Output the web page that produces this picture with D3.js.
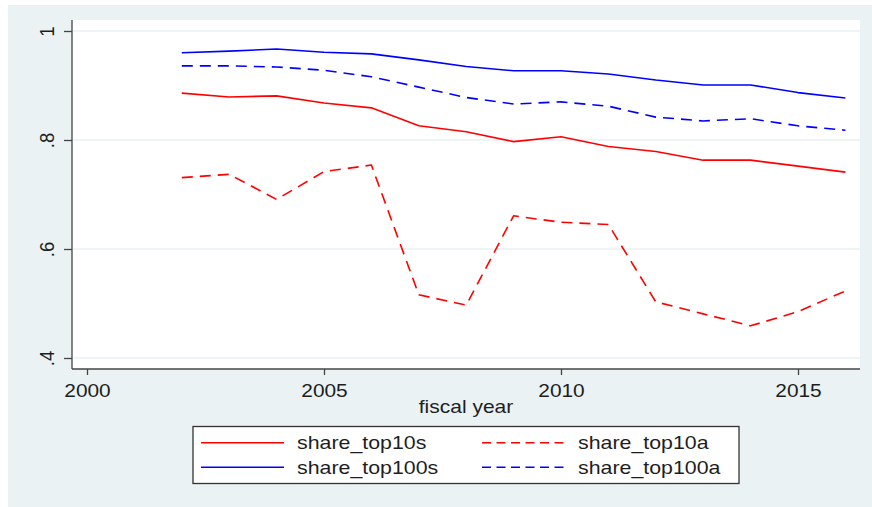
<!DOCTYPE html>
<html><head><meta charset="utf-8">
<script src="https://cdn.jsdelivr.net/npm/d3@7"></script>
<style>html,body{margin:0;padding:0;background:#fff;}svg{display:block;}</style>
</head><body>
<script>
const years = [2002,2003,2004,2005,2006,2007,2008,2009,2010,2011,2012,2013,2014,2015,2016];
const share_top10s  = [0.886,0.879,0.881,0.868,0.859,0.826,0.815,0.797,0.806,0.788,0.779,0.763,0.763,0.752,0.741];
const share_top10a  = [0.731,0.737,0.691,0.742,0.754,0.516,0.497,0.661,0.649,0.645,0.503,0.481,0.459,0.485,0.523];
const share_top100s = [0.960,0.963,0.967,0.961,0.958,0.947,0.935,0.927,0.927,0.921,0.910,0.901,0.901,0.887,0.877];
const share_top100a = [0.936,0.936,0.934,0.928,0.916,0.897,0.878,0.866,0.870,0.862,0.842,0.835,0.839,0.826,0.818];
const xTicks = [2000,2005,2010,2015];
const yTicks = [0.4,0.6,0.8,1];
const yTickLabels = [".4",".6",".8","1"];
const seriesNames = ["share_top10s","share_top10a","share_top100s","share_top100a"];

const W = 872, H = 507;
const svg = d3.select("body").append("svg").attr("width",W).attr("height",H);
const BG = "#EAF2F3";
const FONT = "'Liberation Sans', Arial, sans-serif";
const TXT = "#1e1e1e";

svg.append("rect").attr("x",8).attr("y",5).attr("width",W-8).attr("height",H-5).attr("fill",BG);

const plot = {l:72, r:860, t:20, b:369};
svg.append("rect").attr("x",plot.l).attr("y",plot.t).attr("width",plot.r-plot.l).attr("height",plot.b-plot.t).attr("fill","#fff");

const x = d3.scaleLinear().domain([2000,2016]).range([87,845.4]);
const y = d3.scaleLinear().domain([0.4,1]).range([358,31]);

// gridlines
svg.append("g").selectAll("line").data(yTicks).join("line")
  .attr("x1",plot.l+1).attr("x2",plot.r).attr("y1",d=>y(d)).attr("y2",d=>y(d))
  .attr("stroke",BG).attr("stroke-width",1.6);

// axes
const ax = svg.append("g").attr("transform",`translate(0,${plot.b})`)
  .call(d3.axisBottom(x).tickValues(xTicks).tickFormat(d3.format("d")).tickSize(6).tickPadding(0));
ax.select(".domain").remove();
ax.selectAll(".tick line").attr("stroke","#444").attr("stroke-width",1.3);
ax.selectAll(".tick text").attr("y",0).attr("dy",null)
  .attr("font-family",FONT).attr("font-size",18.5).attr("fill",TXT)
  .attr("transform","translate(0,28) scale(1.13,1)");

const ay = svg.append("g").attr("transform",`translate(${plot.l},0)`)
  .call(d3.axisLeft(y).tickValues(yTicks).tickFormat((d,i)=>yTickLabels[i]).tickSize(8).tickPadding(0));
ay.select(".domain").remove();
ay.selectAll(".tick line").attr("stroke","#444").attr("stroke-width",1.3);
ay.selectAll(".tick text").attr("x",0).attr("dy",null).attr("text-anchor","middle")
  .attr("font-family",FONT).attr("font-size",18.5).attr("fill",TXT)
  .attr("transform","translate(-18,0) scale(1.13,1) rotate(-90)");

svg.append("line").attr("x1",plot.l).attr("x2",plot.l).attr("y1",plot.t).attr("y2",plot.b).attr("stroke","#444").attr("stroke-width",1.3);
svg.append("line").attr("x1",plot.l).attr("x2",plot.r).attr("y1",plot.b).attr("y2",plot.b).attr("stroke","#444").attr("stroke-width",1.3);

// axis title
svg.append("text").attr("transform",`translate(${(plot.l+plot.r)/2},413) scale(1.18,1)`)
  .attr("text-anchor","middle").attr("font-family",FONT).attr("font-size",17.8).attr("fill",TXT)
  .text("fiscal year");

// lines
const series = [
  {name:seriesNames[0], vals:share_top10s,  color:"#ff0000", dash:null},
  {name:seriesNames[1], vals:share_top10a,  color:"#ff0000", dash:"11,7"},
  {name:seriesNames[2], vals:share_top100s, color:"#0000ff", dash:null},
  {name:seriesNames[3], vals:share_top100a, color:"#0000ff", dash:"11,7"}
];
const line = d3.line().x((d,i)=>x(years[i])).y(d=>y(d));
svg.append("g").selectAll("path").data(series).join("path")
  .attr("d",d=>line(d.vals)).attr("fill","none").attr("stroke",d=>d.color)
  .attr("stroke-width",1.6).attr("stroke-dasharray",d=>d.dash).attr("stroke-linejoin","round");

// legend
const lg = svg.append("g");
lg.append("rect").attr("x",193).attr("y",426.5).attr("width",546).attr("height",57)
  .attr("fill","#fff").attr("stroke","#333").attr("stroke-width",1.3);
const legendOrder = [0,1,2,3];
const cols = [201,482], rows = [442.7,467.3];
legendOrder.forEach((si,k)=>{
  const s = series[si];
  const cx = cols[k%2], cy = rows[Math.floor(k/2)];
  lg.append("line").attr("x1",cx).attr("x2",cx+83).attr("y1",cy).attr("y2",cy)
    .attr("stroke",s.color).attr("stroke-width",1.6).attr("stroke-dasharray",s.dash?"9,5.5":null);
  lg.append("text").attr("transform",`translate(${cx+96},${cy+6.5}) scale(1.22,1)`)
    .attr("font-family",FONT).attr("font-size",17.5).attr("fill",TXT).text(s.name);
});
</script>
</body></html>
